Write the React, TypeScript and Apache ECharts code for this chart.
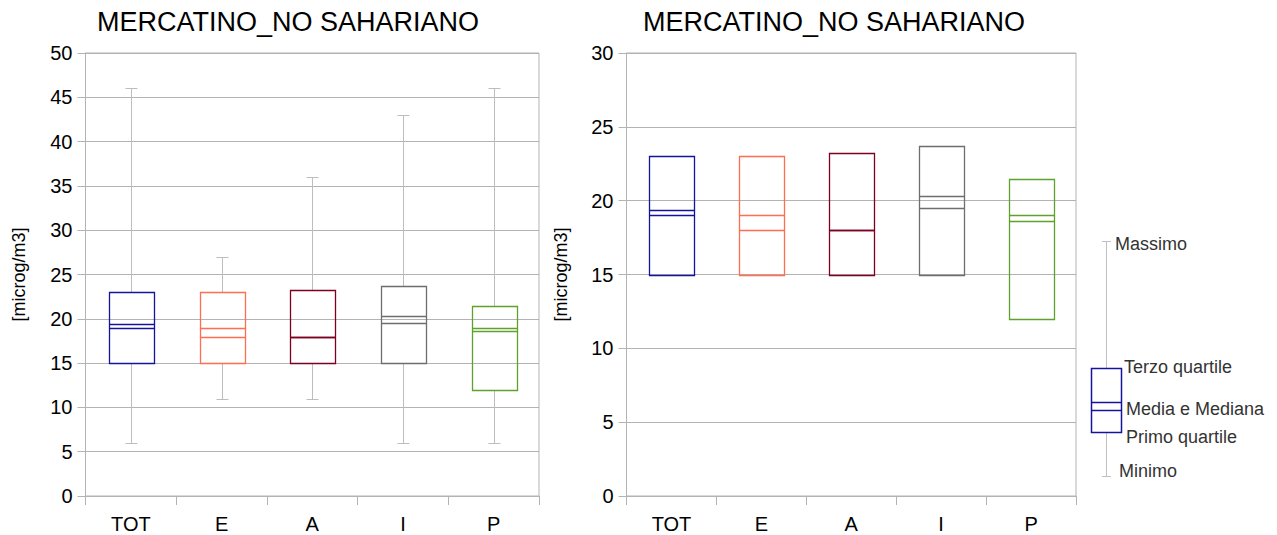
import React, { useEffect, useRef } from 'react';
import * as echarts from 'echarts';

const categories = ['TOT', 'E', 'A', 'I', 'P'];
const minVals = [6, 11, 11, 6, 6];
const q1Vals = [15, 15, 15, 15, 12];
const q3Vals = [23, 23, 23.2, 23.7, 21.5];
const maxVals = [46, 27, 36, 43, 46];
const meanVals = [19.4, 19.0, 18.0, 20.3, 19.0];
const medianVals = [19.0, 18.0, 18.0, 19.5, 18.6];
const boxColors = ['#14149a', '#ff6e50', '#7e0021', '#6e6e6e', '#5fa12a'];

const titleText = 'MERCATINO_NO SAHARIANO';
const yName = '[microg/m3]';
const legendLabels = ['Massimo', 'Terzo quartile', 'Media e Mediana', 'Primo quartile', 'Minimo'];

const FONT = "'Liberation Sans', Arial, sans-serif";
const GRID_COLOR = '#b3b3b3';

function buildData() {
  return categories.map((c, i) => [i, minVals[i], q1Vals[i], q3Vals[i], maxVals[i], meanVals[i], medianVals[i]]);
}

function makeRender(showWhiskers: boolean) {
  return (params: any, api: any) => {
    const i = api.value(0);
    const x = Math.round(api.coord([i, 0])[0]) + 0.5;
    const bw = api.size([1, 0])[0] * 0.5;
    const y = (v: number) => Math.round(api.coord([i, v])[1]) + 0.5;
    const yMin = y(api.value(1));
    const yQ1 = y(api.value(2));
    const yQ3 = y(api.value(3));
    const yMax = y(api.value(4));
    const yMean = y(api.value(5));
    const yMed = y(api.value(6));
    const color = boxColors[i];
    const children: any[] = [];
    const ws = { stroke: '#bdbdbd', lineWidth: 1 };
    if (showWhiskers) {
      children.push({ type: 'line', shape: { x1: x, y1: yMax, x2: x, y2: yQ3 }, style: ws });
      children.push({ type: 'line', shape: { x1: x, y1: yQ1, x2: x, y2: yMin }, style: ws });
      children.push({ type: 'line', shape: { x1: x - 6, y1: yMax, x2: x + 6, y2: yMax }, style: ws });
      children.push({ type: 'line', shape: { x1: x - 6, y1: yMin, x2: x + 6, y2: yMin }, style: ws });
    }
    const left = Math.round(x - bw / 2) + 0.5;
    const right = Math.round(x + bw / 2) + 0.5;
    children.push({
      type: 'rect',
      shape: { x: left, y: yQ3, width: right - left, height: yQ1 - yQ3 },
      style: { fill: 'none', stroke: color, lineWidth: 1.3 },
    });
    children.push({ type: 'line', shape: { x1: left, y1: yMean, x2: right, y2: yMean }, style: { stroke: color, lineWidth: 1.3 } });
    children.push({ type: 'line', shape: { x1: left, y1: yMed, x2: right, y2: yMed }, style: { stroke: color, lineWidth: 1.3 } });
    return { type: 'group', children };
  };
}

function yAxis(gridIndex: number, max: number) {
  return {
    type: 'value',
    gridIndex,
    min: 0,
    max,
    interval: 5,
    name: yName,
    nameLocation: 'middle',
    nameGap: gridIndex === 0 ? 58 : 57,
    nameTextStyle: { fontFamily: FONT, fontSize: 18, color: '#000' },
    axisLine: { show: true, lineStyle: { color: GRID_COLOR } },
    axisTick: { show: true, length: 8, lineStyle: { color: GRID_COLOR } },
    axisLabel: { fontFamily: FONT, fontSize: 20, color: '#000', margin: 13 },
    splitLine: { show: true, lineStyle: { color: GRID_COLOR } },
  };
}

function xAxis(gridIndex: number) {
  return {
    type: 'category',
    gridIndex,
    data: categories,
    boundaryGap: true,
    axisLine: { show: true, lineStyle: { color: GRID_COLOR } },
    axisTick: { show: true, length: 9, interval: 0, lineStyle: { color: GRID_COLOR } },
    axisLabel: { fontFamily: FONT, fontSize: 20, color: '#000', margin: 18, interval: 0 },
    splitLine: { show: false },
  };
}

export default function App() {
  const ref = useRef<HTMLDivElement>(null);
  useEffect(() => {
    if (!ref.current) return;
    const chart = echarts.init(ref.current, null, { renderer: 'svg' });
    const data = buildData();
    const legendText = (text: string, x: number, y: number) => ({
      type: 'text',
      x,
      y,
      style: { text, fontFamily: FONT, fontSize: 18, fill: '#333', textAlign: 'left', textVerticalAlign: 'middle' },
    });
    chart.setOption({
      animation: false,
      backgroundColor: '#ffffff',
      grid: [
        { left: 85.5, top: 53, width: 453.5, height: 443, show: true, borderColor: GRID_COLOR, borderWidth: 1, backgroundColor: 'transparent' },
        { left: 626.5, top: 53, width: 449.5, height: 443, show: true, borderColor: GRID_COLOR, borderWidth: 1, backgroundColor: 'transparent' },
      ],
      xAxis: [xAxis(0), xAxis(1)],
      yAxis: [yAxis(0, 50), yAxis(1, 30)],
      series: [
        { type: 'custom', xAxisIndex: 0, yAxisIndex: 0, renderItem: makeRender(true), data, clip: false },
        { type: 'custom', xAxisIndex: 1, yAxisIndex: 1, renderItem: makeRender(false), data, clip: true },
      ],
      graphic: [
        { type: 'text', x: 288, y: 22, style: { text: titleText, fontFamily: FONT, fontSize: 27, fill: '#000', textAlign: 'center', textVerticalAlign: 'middle' } },
        { type: 'text', x: 834, y: 22, style: { text: titleText, fontFamily: FONT, fontSize: 27, fill: '#000', textAlign: 'center', textVerticalAlign: 'middle' } },
        { type: 'line', shape: { x1: 1106.5, y1: 241.5, x2: 1106.5, y2: 476.5 }, style: { stroke: '#c0c0c0', lineWidth: 1 } },
        { type: 'line', shape: { x1: 1102, y1: 241.5, x2: 1111, y2: 241.5 }, style: { stroke: '#c0c0c0', lineWidth: 1 } },
        { type: 'line', shape: { x1: 1102, y1: 476.5, x2: 1111, y2: 476.5 }, style: { stroke: '#c0c0c0', lineWidth: 1 } },
        { type: 'rect', shape: { x: 1091.5, y: 368.5, width: 30, height: 64 }, style: { fill: '#fff', stroke: '#14149a', lineWidth: 1.5 } },
        { type: 'line', shape: { x1: 1091.5, y1: 402.5, x2: 1121.5, y2: 402.5 }, style: { stroke: '#14149a', lineWidth: 1.5 } },
        { type: 'line', shape: { x1: 1091.5, y1: 410.5, x2: 1121.5, y2: 410.5 }, style: { stroke: '#14149a', lineWidth: 1.5 } },
        legendText(legendLabels[0], 1115, 244),
        legendText(legendLabels[1], 1124, 367),
        legendText(legendLabels[2], 1126, 409),
        legendText(legendLabels[3], 1126, 437),
        legendText(legendLabels[4], 1119, 471),
      ],
    });
    return () => chart.dispose();
  }, []);
  return <div ref={ref} style={{ position: 'fixed', left: 0, top: 0, width: 1277, height: 535 }} />;
}
